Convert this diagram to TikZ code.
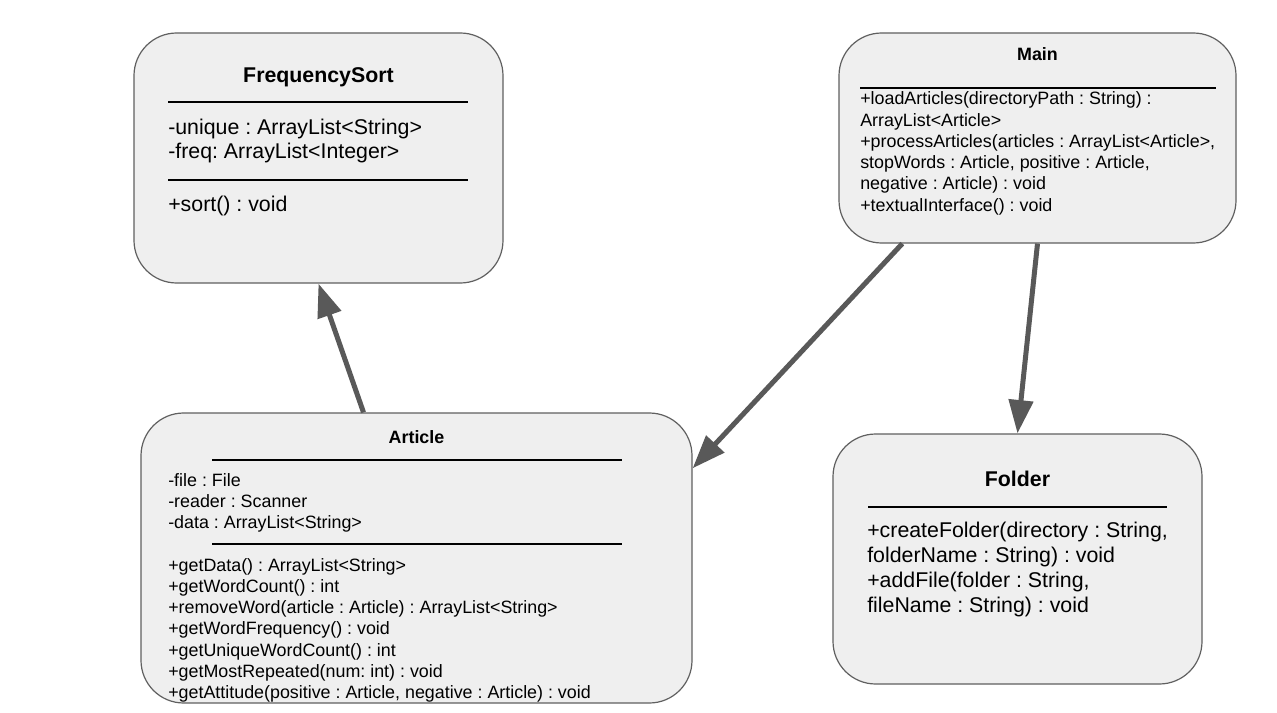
\documentclass[tikz,border=0pt]{standalone}
\usepackage{fontspec}
\setmainfont{Liberation Sans}
\usetikzlibrary{arrows.meta}

\definecolor{boxfill}{HTML}{EFEFEF}
\definecolor{boxline}{HTML}{606060}
\definecolor{arrowgray}{HTML}{595959}

\newcommand{\bigtext}{\fontsize{16pt}{19pt}\selectfont}
\newcommand{\smalltext}{\fontsize{13.4pt}{15pt}\selectfont}
\frenchspacing

\begin{document}
\begin{tikzpicture}[
                x=0.75pt, y=-0.75pt,% one unit is one pixel of the page
                classbox/.style={draw=boxline, fill=boxfill, line width=0.9pt, rounded corners=32pt, inner sep=0pt},
                bigtitle/.style={anchor=base, inner sep=0pt, font=\bigtext\bfseries},
                smalltitle/.style={anchor=base, inner sep=0pt, font=\smalltext\bfseries},
                bigline/.style={anchor=base west, inner sep=0pt, font=\bigtext},
                smallline/.style={anchor=base west, inner sep=0pt, font=\smalltext},
                divider/.style={line width=1.8pt},
                uses/.style={draw=arrowgray, line width=3.75pt, -{Triangle[length=25pt, width=18pt]}}
            ]

                \path[use as bounding box, fill=white] (0,0) rectangle (1277,713);

                % class boxes
                \node[classbox, minimum width=276.75pt, minimum height=187.5pt] (fs) at (318.5,158) {};
                \node[classbox, minimum width=297.75pt, minimum height=157.5pt] (main) at (1037.5,138) {};
                \node[classbox, minimum width=413.25pt, minimum height=217.5pt] (art) at (416.5,558) {};
                \node[classbox, minimum width=276.75pt, minimum height=187.5pt] (folder) at (1017.5,559) {};

                % FrequencySort
                \node[bigtitle] (fs-title) at (318.5,83) {FrequencySort};
                \draw[divider] (168,102) -- (468,102)
                    (168,180) -- (468,180);
                \node[bigline] (fs-1) at (168,135) {-unique : ArrayList<String>};
                \node[bigline] (fs-2) at (168,159) {-freq: ArrayList<Integer>};
                \node[bigline] (fs-3) at (168,211) {+sort() : void};

                % Main
                \node[smalltitle] (main-title) at (1037.5,61) {Main};
                \draw[divider] (860,88) -- (1216,88);
                \foreach \txt [count=\i] in {{+loadArticles(directoryPath : String) :}, {ArrayList<Article>},
                    {+processArticles(articles : ArrayList<Article>,}, {stopWords : Article, positive : Article,},
                    {negative : Article) : void}, {+textualInterface() : void}}
                    \node[smallline] (main-\i) at (860,{105+21.2*(\i-1)}) {\txt};

                % Article
                \node[smalltitle] (art-title) at (416.5,443) {Article};
                \draw[divider] (212,460) -- (622,460)
                    (212,544) -- (622,544);
                \foreach \txt [count=\i] in {-file : File, -reader : Scanner, -data : ArrayList<String>}
                    \node[smallline] (art-a\i) at (168,{486+21.2*(\i-1)}) {\txt};
                \foreach \txt [count=\i] in {{+getData() : ArrayList<String>}, {+getWordCount() : int},
                    {+removeWord(article : Article) : ArrayList<String>}, {+getWordFrequency() : void},
                    {+getUniqueWordCount() : int}, {+getMostRepeated(num: int) : void},
                    {+getAttitude(positive : Article, negative : Article) : void}}
                    \node[smallline] (art-m\i) at (168,{571+21.3*(\i-1)}) {\txt};

                % Folder
                \node[bigtitle] (folder-title) at (1017.5,486) {Folder};
                \draw[divider] (868,507) -- (1167,507);
                \foreach \txt [count=\i] in {{+createFolder(directory : String,}, {folderName : String) : void},
                    {+addFile(folder : String,}, {fileName : String) : void}}
                    \node[bigline] (folder-\i) at (867,{537+25.3*(\i-1)}) {\txt};

                % associations
                \draw[uses] (art.110) -- (fs.south);
                \draw[uses] (main.218.6) -- (art.18);
                \draw[uses] (main.south) -- (folder.north);

            \end{tikzpicture}
\end{document}
